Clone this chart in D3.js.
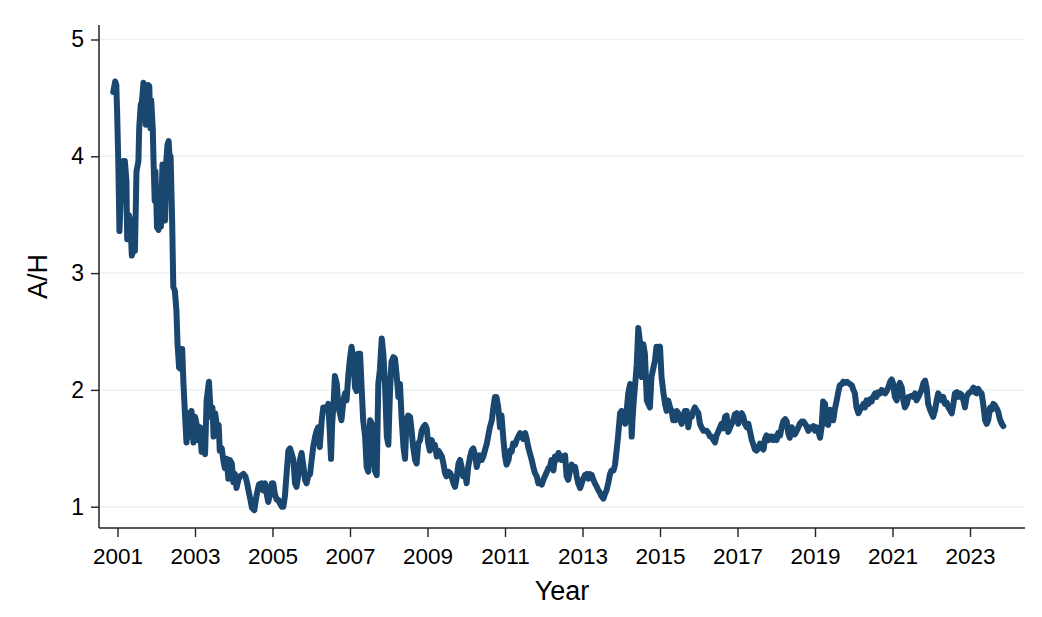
<!DOCTYPE html>
<html>
<head>
<meta charset="utf-8">
<script src="https://cdn.jsdelivr.net/npm/d3@7/dist/d3.min.js"></script>
<style>
    html, body { margin: 0; padding: 0; background: #ffffff; }
    svg { display: block; font-family: "Liberation Sans", Arial, sans-serif; }
</style>
</head>
<body>
<div id="chart"></div>
<script>
// A/H ratio (decimal year, ratio)
const obsYear = [
    2000.89, 2000.94, 2000.97, 2000.99, 2001.02, 2001.05, 2001.09, 2001.15, 2001.19, 2001.23,
    2001.25, 2001.29, 2001.33, 2001.37, 2001.42, 2001.45, 2001.49, 2001.54, 2001.56, 2001.60,
    2001.63, 2001.67, 2001.71, 2001.73, 2001.75, 2001.79, 2001.82, 2001.85, 2001.87, 2001.91,
    2001.93, 2001.96, 2001.98, 2002.02, 2002.06, 2002.10, 2002.12, 2002.16, 2002.19, 2002.23,
    2002.26, 2002.29, 2002.32, 2002.35, 2002.37, 2002.41, 2002.44, 2002.48, 2002.52, 2002.55,
    2002.59, 2002.63, 2002.67, 2002.70, 2002.74, 2002.78, 2002.83, 2002.87, 2002.91, 2002.96,
    2003.00, 2003.04, 2003.08, 2003.13, 2003.17, 2003.21, 2003.26, 2003.30, 2003.36, 2003.41,
    2003.45, 2003.48, 2003.52, 2003.57, 2003.61, 2003.64, 2003.69, 2003.73, 2003.77, 2003.82,
    2003.86, 2003.90, 2003.95, 2003.99, 2004.03, 2004.07, 2004.12, 2004.16, 2004.21, 2004.25,
    2004.30, 2004.34, 2004.38, 2004.43, 2004.47, 2004.53, 2004.59, 2004.65, 2004.72, 2004.76,
    2004.81, 2004.85, 2004.89, 2004.94, 2004.98, 2005.02, 2005.06, 2005.11, 2005.15, 2005.19,
    2005.24, 2005.28, 2005.32, 2005.37, 2005.41, 2005.45, 2005.49, 2005.54, 2005.58, 2005.62,
    2005.67, 2005.71, 2005.75, 2005.80, 2005.84, 2005.88, 2005.92, 2005.97, 2006.01, 2006.05,
    2006.10, 2006.14, 2006.18, 2006.22, 2006.27, 2006.31, 2006.35, 2006.40, 2006.44, 2006.48,
    2006.51, 2006.54, 2006.58, 2006.61, 2006.66, 2006.70, 2006.74, 2006.78, 2006.83, 2006.87,
    2006.91, 2006.96, 2007.00, 2007.04, 2007.09, 2007.13, 2007.17, 2007.21, 2007.26, 2007.30,
    2007.34, 2007.39, 2007.43, 2007.47, 2007.52, 2007.56, 2007.60, 2007.64, 2007.69, 2007.73,
    2007.77, 2007.82, 2007.86, 2007.90, 2007.95, 2007.99, 2008.03, 2008.07, 2008.12, 2008.16,
    2008.20, 2008.25, 2008.29, 2008.33, 2008.38, 2008.42, 2008.46, 2008.50, 2008.55, 2008.59,
    2008.63, 2008.68, 2008.72, 2008.76, 2008.81, 2008.85, 2008.89, 2008.94, 2008.98, 2009.02,
    2009.06, 2009.11, 2009.15, 2009.19, 2009.24, 2009.28, 2009.32, 2009.37, 2009.41, 2009.45,
    2009.49, 2009.54, 2009.58, 2009.62, 2009.67, 2009.71, 2009.75, 2009.80, 2009.84, 2009.88,
    2009.92, 2009.97, 2010.01, 2010.05, 2010.10, 2010.14, 2010.18, 2010.23, 2010.27, 2010.31,
    2010.35, 2010.40, 2010.44, 2010.48, 2010.53, 2010.57, 2010.61, 2010.66, 2010.70, 2010.74,
    2010.78, 2010.83, 2010.87, 2010.91, 2010.96, 2011.00, 2011.04, 2011.09, 2011.13, 2011.17,
    2011.21, 2011.26, 2011.30, 2011.34, 2011.39, 2011.43, 2011.47, 2011.52, 2011.56, 2011.60,
    2011.64, 2011.69, 2011.73, 2011.77, 2011.82, 2011.86, 2011.90, 2011.95, 2011.99, 2012.03,
    2012.07, 2012.12, 2012.16, 2012.20, 2012.25, 2012.29, 2012.33, 2012.38, 2012.42, 2012.46,
    2012.50, 2012.55, 2012.59, 2012.63, 2012.68, 2012.72, 2012.76, 2012.81, 2012.85, 2012.89,
    2012.94, 2012.98, 2013.02, 2013.06, 2013.11, 2013.15, 2013.19, 2013.24, 2013.28, 2013.32,
    2013.37, 2013.41, 2013.45, 2013.49, 2013.54, 2013.58, 2013.62, 2013.67, 2013.71, 2013.75,
    2013.80, 2013.84, 2013.88, 2013.92, 2013.97, 2014.01, 2014.05, 2014.10, 2014.14, 2014.18,
    2014.23, 2014.27, 2014.29, 2014.33, 2014.36, 2014.40, 2014.44, 2014.48, 2014.53, 2014.57,
    2014.61, 2014.66, 2014.70, 2014.74, 2014.78, 2014.83, 2014.87, 2014.91, 2014.96, 2015.00,
    2015.04, 2015.09, 2015.13, 2015.17, 2015.21, 2015.26, 2015.30, 2015.34, 2015.39, 2015.43,
    2015.47, 2015.52, 2015.56, 2015.60, 2015.64, 2015.69, 2015.73, 2015.77, 2015.82, 2015.86,
    2015.90, 2015.95, 2015.99, 2016.03, 2016.07, 2016.12, 2016.16, 2016.20, 2016.25, 2016.29,
    2016.33, 2016.38, 2016.42, 2016.46, 2016.50, 2016.55, 2016.59, 2016.63, 2016.68, 2016.72,
    2016.76, 2016.81, 2016.85, 2016.89, 2016.93, 2016.98, 2017.02, 2017.06, 2017.11, 2017.15,
    2017.19, 2017.24, 2017.28, 2017.32, 2017.37, 2017.41, 2017.45, 2017.49, 2017.54, 2017.58,
    2017.62, 2017.67, 2017.71, 2017.75, 2017.80, 2017.84, 2017.88, 2017.92, 2017.97, 2018.01,
    2018.05, 2018.10, 2018.14, 2018.18, 2018.23, 2018.27, 2018.31, 2018.35, 2018.40, 2018.44,
    2018.48, 2018.53, 2018.57, 2018.61, 2018.66, 2018.70, 2018.74, 2018.78, 2018.83, 2018.87,
    2018.91, 2018.96, 2019.00, 2019.04, 2019.09, 2019.13, 2019.17, 2019.21, 2019.26, 2019.30,
    2019.34, 2019.39, 2019.43, 2019.47, 2019.51, 2019.56, 2019.60, 2019.64, 2019.69, 2019.73,
    2019.77, 2019.82, 2019.86, 2019.90, 2019.95, 2019.99, 2020.03, 2020.07, 2020.12, 2020.16,
    2020.20, 2020.25, 2020.29, 2020.33, 2020.38, 2020.42, 2020.46, 2020.50, 2020.55, 2020.59,
    2020.63, 2020.68, 2020.72, 2020.76, 2020.81, 2020.85, 2020.89, 2020.94, 2020.98, 2021.02,
    2021.06, 2021.11, 2021.15, 2021.19, 2021.24, 2021.28, 2021.32, 2021.37, 2021.41, 2021.45,
    2021.49, 2021.54, 2021.58, 2021.62, 2021.67, 2021.71, 2021.75, 2021.80, 2021.84, 2021.88,
    2021.92, 2021.97, 2022.01, 2022.05, 2022.10, 2022.14, 2022.18, 2022.23, 2022.27, 2022.31,
    2022.35, 2022.40, 2022.44, 2022.48, 2022.53, 2022.57, 2022.61, 2022.66, 2022.70, 2022.74,
    2022.78, 2022.83, 2022.87, 2022.91, 2022.96, 2023.00, 2023.04, 2023.09, 2023.13, 2023.17,
    2023.21, 2023.26, 2023.30, 2023.34, 2023.39, 2023.43, 2023.47, 2023.52, 2023.56, 2023.60,
    2023.64, 2023.69, 2023.73, 2023.77, 2023.82, 2023.86
];

const obsRatio = [
    4.55, 4.64, 4.61, 4.38, 3.96, 3.36, 3.67, 3.96, 3.96, 3.79,
    3.29, 3.50, 3.45, 3.15, 3.22, 3.19, 3.87, 3.96, 4.24, 4.44,
    4.47, 4.63, 4.57, 4.27, 4.53, 4.61, 4.60, 4.24, 4.48, 4.24,
    3.96, 3.62, 3.87, 3.39, 3.37, 3.62, 3.40, 3.93, 3.50, 3.45,
    3.96, 4.10, 4.13, 3.96, 4.00, 3.45, 2.88, 2.85, 2.68, 2.39,
    2.19, 2.18, 2.35, 2.07, 1.80, 1.55, 1.80, 1.60, 1.82, 1.55,
    1.77, 1.71, 1.57, 1.68, 1.47, 1.54, 1.45, 1.91, 2.07, 1.77,
    1.85, 1.60, 1.80, 1.68, 1.70, 1.48, 1.50, 1.40, 1.33, 1.41,
    1.24, 1.40, 1.37, 1.21, 1.28, 1.16, 1.23, 1.26, 1.27, 1.28,
    1.26, 1.21, 1.14, 1.06, 0.99, 0.97, 1.10, 1.19, 1.20, 1.14,
    1.20, 1.11, 1.04, 1.11, 1.20, 1.20, 1.11, 1.06, 1.06, 1.03,
    1.00, 1.00, 1.09, 1.31, 1.48, 1.50, 1.46, 1.40, 1.20, 1.17,
    1.28, 1.40, 1.46, 1.34, 1.23, 1.20, 1.26, 1.28, 1.40, 1.51,
    1.60, 1.65, 1.68, 1.51, 1.74, 1.85, 1.85, 1.83, 1.88, 1.63,
    1.41, 1.71, 1.91, 2.12, 2.05, 1.85, 1.80, 1.74, 1.91, 1.97,
    1.91, 2.14, 2.27, 2.37, 2.25, 2.02, 1.99, 2.31, 2.31, 2.02,
    1.74, 1.60, 1.34, 1.30, 1.74, 1.71, 1.51, 1.31, 1.27, 2.05,
    2.17, 2.44, 2.31, 2.08, 1.60, 1.53, 1.97, 2.24, 2.28, 2.27,
    2.14, 1.94, 2.05, 1.77, 1.51, 1.41, 1.74, 1.78, 1.77, 1.65,
    1.51, 1.40, 1.37, 1.54, 1.57, 1.65, 1.68, 1.70, 1.67, 1.54,
    1.48, 1.57, 1.51, 1.53, 1.43, 1.48, 1.46, 1.43, 1.37, 1.29,
    1.26, 1.30, 1.29, 1.26, 1.20, 1.17, 1.24, 1.37, 1.40, 1.34,
    1.26, 1.29, 1.20, 1.34, 1.43, 1.48, 1.50, 1.44, 1.34, 1.40,
    1.44, 1.40, 1.43, 1.48, 1.54, 1.61, 1.68, 1.74, 1.85, 1.94,
    1.94, 1.84, 1.68, 1.78, 1.57, 1.43, 1.36, 1.40, 1.48, 1.47,
    1.54, 1.53, 1.57, 1.60, 1.63, 1.61, 1.58, 1.63, 1.58, 1.51,
    1.46, 1.40, 1.34, 1.29, 1.26, 1.20, 1.21, 1.19, 1.23, 1.26,
    1.29, 1.33, 1.34, 1.40, 1.31, 1.43, 1.40, 1.46, 1.43, 1.40,
    1.43, 1.44, 1.26, 1.23, 1.31, 1.36, 1.33, 1.34, 1.26, 1.20,
    1.16, 1.20, 1.24, 1.27, 1.28, 1.24, 1.28, 1.27, 1.23, 1.20,
    1.17, 1.14, 1.12, 1.09, 1.07, 1.11, 1.14, 1.21, 1.28, 1.31,
    1.31, 1.36, 1.48, 1.61, 1.80, 1.82, 1.77, 1.71, 1.82, 1.97,
    2.05, 1.60, 1.74, 1.94, 2.05, 2.22, 2.53, 2.42, 2.11, 2.39,
    2.31, 1.91, 1.88, 1.85, 2.11, 2.19, 2.25, 2.37, 2.32, 2.37,
    2.11, 1.97, 1.88, 1.82, 1.91, 1.85, 1.82, 1.74, 1.74, 1.82,
    1.80, 1.74, 1.71, 1.77, 1.82, 1.82, 1.68, 1.77, 1.77, 1.82,
    1.85, 1.82, 1.80, 1.71, 1.68, 1.65, 1.65, 1.65, 1.63, 1.60,
    1.60, 1.57, 1.55, 1.61, 1.64, 1.68, 1.71, 1.67, 1.77, 1.78,
    1.64, 1.68, 1.71, 1.74, 1.79, 1.80, 1.71, 1.77, 1.80, 1.77,
    1.71, 1.68, 1.71, 1.65, 1.57, 1.53, 1.49, 1.48, 1.50, 1.54,
    1.51, 1.49, 1.58, 1.61, 1.57, 1.60, 1.60, 1.57, 1.60, 1.57,
    1.63, 1.61, 1.68, 1.73, 1.75, 1.73, 1.63, 1.59, 1.68, 1.64,
    1.62, 1.65, 1.68, 1.71, 1.73, 1.73, 1.71, 1.69, 1.65, 1.68,
    1.67, 1.69, 1.65, 1.68, 1.64, 1.59, 1.68, 1.90, 1.88, 1.71,
    1.70, 1.83, 1.80, 1.74, 1.83, 1.91, 1.98, 2.04, 2.05, 2.07,
    2.06, 2.07, 2.06, 2.05, 2.04, 2.00, 1.97, 1.85, 1.80, 1.83,
    1.85, 1.88, 1.85, 1.91, 1.88, 1.92, 1.90, 1.94, 1.97, 1.94,
    1.98, 1.97, 2.00, 1.99, 1.97, 1.99, 2.02, 2.07, 2.09, 2.05,
    1.94, 1.91, 2.02, 2.06, 2.02, 1.91, 1.85, 1.88, 1.94, 1.94,
    1.95, 1.94, 1.97, 1.91, 1.94, 1.97, 2.00, 2.06, 2.08, 2.02,
    1.88, 1.83, 1.80, 1.77, 1.83, 1.91, 1.97, 1.94, 1.91, 1.94,
    1.88, 1.89, 1.85, 1.83, 1.80, 1.88, 1.97, 1.98, 1.94, 1.97,
    1.96, 1.91, 1.85, 1.94, 1.97, 1.98, 1.99, 2.02, 1.98, 1.97,
    2.01, 1.98, 1.97, 1.88, 1.74, 1.71, 1.74, 1.85, 1.83, 1.88,
    1.87, 1.84, 1.81, 1.75, 1.71, 1.69
];

const xTicks = [2001, 2003, 2005, 2007, 2009, 2011, 2013, 2015, 2017, 2019, 2021, 2023];
const yTicks = [1, 2, 3, 4, 5];

const width = 1042;
const height = 617;
const plot = { left: 99, right: 1025, top: 25, bottom: 528 };
const lineColor = '#1a476f';
const gridColor = '#eaf2f3';
const axisColor = '#222222';

const series = obsYear.map((year, index) => ({ year, ratio: obsRatio[index] }));

const svg = d3.select('#chart')
    .append('svg')
    .attr('width', width)
    .attr('height', height);

svg.append('rect')
    .attr('width', width)
    .attr('height', height)
    .attr('fill', '#ffffff');

const xScale = d3.scaleLinear()
    .domain([2001, 2023])
    .range([117.5, 970]);

const yScale = d3.scaleLinear()
    .domain([1, 5])
    .range([506.7, 39.5]);

// horizontal gridlines across the whole plot region
svg.append('g')
    .selectAll('line')
    .data(yTicks)
    .enter()
    .append('line')
    .attr('x1', plot.left + 1)
    .attr('x2', plot.right)
    .attr('y1', (tick) => yScale(tick))
    .attr('y2', (tick) => yScale(tick))
    .attr('stroke', gridColor)
    .attr('stroke-width', 1.5);

svg.append('g')
    .attr('transform', `translate(${plot.left},0)`)
    .call(d3.axisLeft(yScale).tickValues(yTicks).tickFormat(d3.format('d')).tickSize(8).tickPadding(7))
    .call((group) => group.select('.domain').remove())
    .call((group) => group.selectAll('line').attr('stroke', axisColor).attr('stroke-width', 1.4))
    .call((group) => group.selectAll('text')
        .attr('fill', '#000000')
        .attr('font-size', 23)
        .attr('font-family', '"Liberation Sans", Arial, sans-serif'));

svg.append('g')
    .attr('transform', `translate(0,${plot.bottom})`)
    .call(d3.axisBottom(xScale).tickValues(xTicks).tickFormat(d3.format('d')).tickSize(9).tickPadding(11))
    .call((group) => group.select('.domain').remove())
    .call((group) => group.selectAll('line').attr('stroke', axisColor).attr('stroke-width', 1.4))
    .call((group) => group.selectAll('text')
        .attr('fill', '#000000')
        .attr('font-size', 22.5)
        .attr('font-family', '"Liberation Sans", Arial, sans-serif'));

svg.append('line')
    .attr('x1', plot.left)
    .attr('x2', plot.left)
    .attr('y1', plot.top)
    .attr('y2', plot.bottom)
    .attr('stroke', axisColor)
    .attr('stroke-width', 1.5);

svg.append('line')
    .attr('x1', plot.left)
    .attr('x2', plot.right)
    .attr('y1', plot.bottom)
    .attr('y2', plot.bottom)
    .attr('stroke', axisColor)
    .attr('stroke-width', 1.5);

const lineGenerator = d3.line()
    .x((datum) => xScale(datum.year))
    .y((datum) => yScale(datum.ratio));

svg.append('path')
    .datum(series)
    .attr('fill', 'none')
    .attr('stroke', lineColor)
    .attr('stroke-width', 6)
    .attr('stroke-linejoin', 'round')
    .attr('stroke-linecap', 'round')
    .attr('d', lineGenerator);

svg.append('text')
    .attr('x', (plot.left + plot.right) / 2)
    .attr('y', 600)
    .attr('text-anchor', 'middle')
    .attr('font-size', 27)
    .attr('fill', '#000000')
    .text('Year');

svg.append('text')
    .attr('transform', `translate(47,${(plot.top + plot.bottom) / 2}) rotate(-90)`)
    .attr('text-anchor', 'middle')
    .attr('font-size', 27)
    .attr('fill', '#000000')
    .text('A/H');
</script>
</body>
</html>
